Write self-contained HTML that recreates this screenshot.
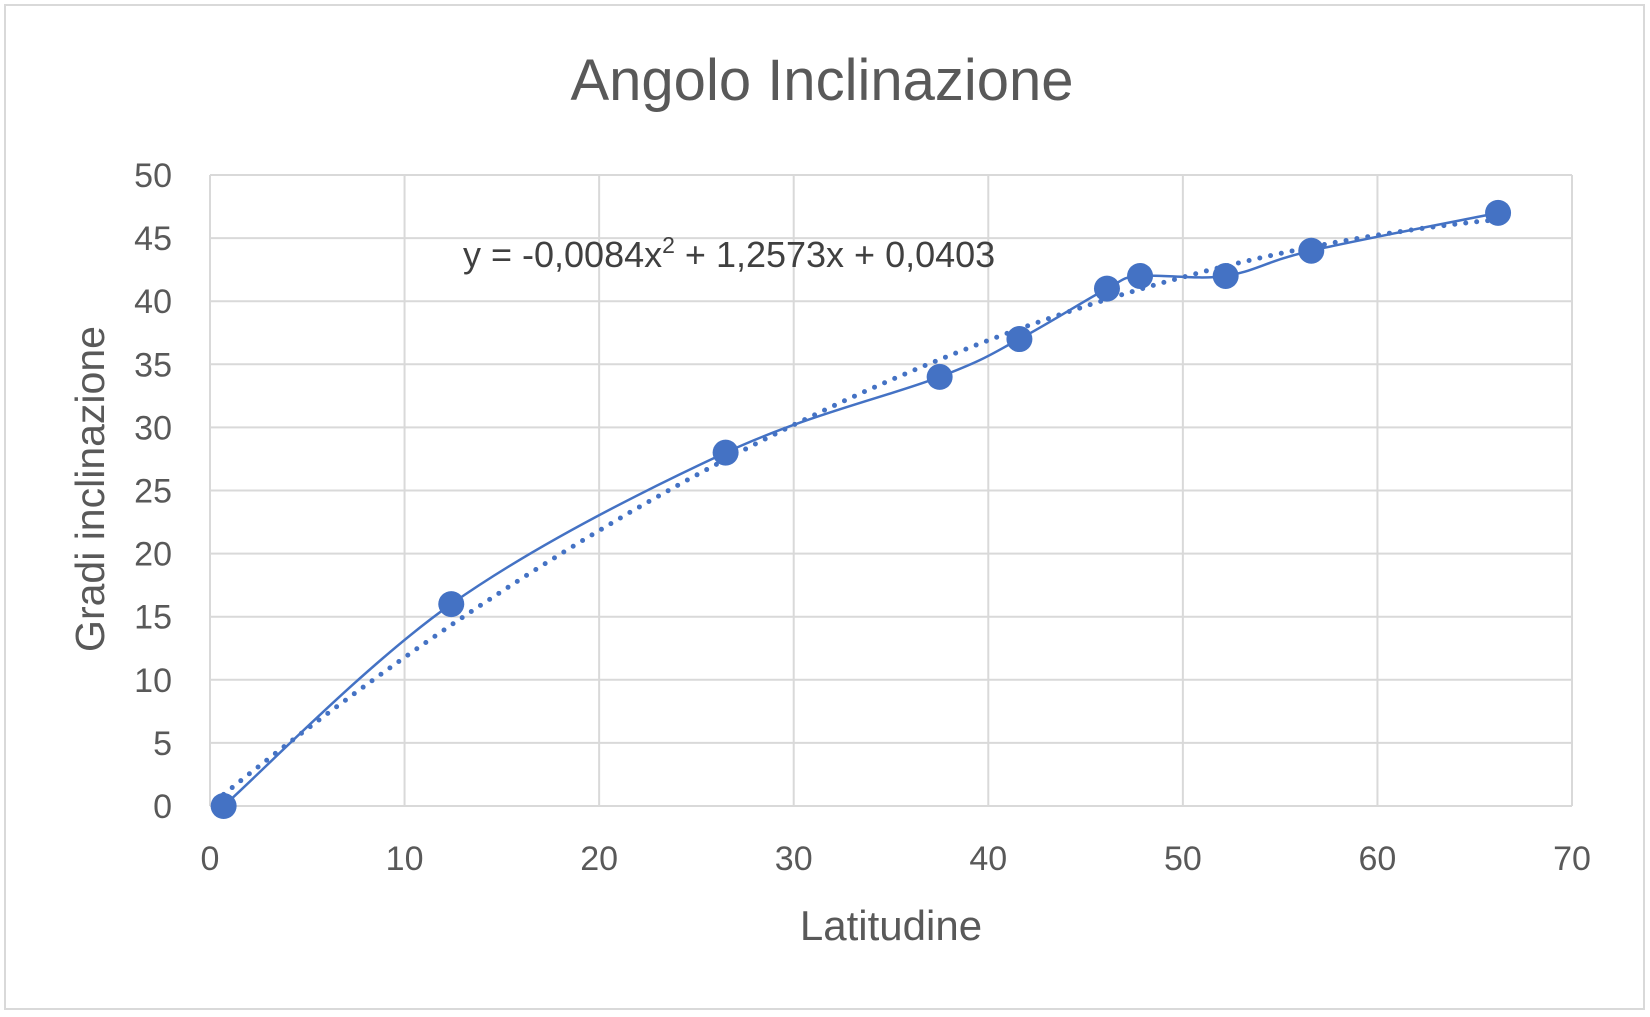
<!DOCTYPE html>
<html><head><meta charset="utf-8"><style>
body{margin:0;background:#fff;}
svg{display:block;font-family:"Liberation Sans",sans-serif;}
</style></head><body>
<svg id="chart" width="1650" height="1017" viewBox="0 0 1650 1017">
<rect x="5" y="5" width="1639" height="1004" fill="#fff" stroke="#d9d9d9" stroke-width="2"/>
<g id="grid"></g>
<g id="ticks"></g>
<g id="trend"></g>
<g id="series"></g>
<text x="822" y="100" font-size="58" fill="#595959" text-anchor="middle">Angolo Inclinazione</text>
<text x="463" y="267" font-size="36" fill="#404040">y = -0,0084x<tspan font-size="23" dy="-14">2</tspan><tspan dy="14"> + 1,2573x + 0,0403</tspan></text>
<text x="891" y="940" font-size="42" fill="#595959" text-anchor="middle">Latitudine</text>
<text transform="translate(104,489) rotate(-90)" font-size="41" fill="#595959" text-anchor="middle">Gradi inclinazione</text>
</svg>
<script>
const latitudes=[0.7,12.4,26.5,37.5,41.6,46.1,47.8,52.2,56.6,66.2];
const angles=[0,16,28,34,37,41,42,42,44,47];
const xTicks=[0,10,20,30,40,50,60,70];
const yTicks=[0,5,10,15,20,25,30,35,40,45,50];
const trendCoef=[-0.0084,1.2573,0.0403];
const NS="http://www.w3.org/2000/svg";
const X0=210,X1=1572,Y0=806,Y1=175;
const sx=v=>X0+(v-0)/(70-0)*(X1-X0);
const sy=v=>Y0-(v-0)/(50-0)*(Y0-Y1);
function mk(t,a,p){const e=document.createElementNS(NS,t);for(const k in a)e.setAttribute(k,a[k]);p.appendChild(e);return e;}
const grid=document.getElementById('grid'),ticks=document.getElementById('ticks');
yTicks.forEach(v=>{
 const l=mk('line',{x1:X0,x2:X1,y1:sy(v),y2:sy(v),stroke:'#d9d9d9','stroke-width':2},grid);
 
 
 const t=mk('text',{x:X0-38,y:sy(v)+12,'font-size':34,fill:'#595959','text-anchor':'end'},ticks);
 t.textContent=v;
 
 
});
xTicks.forEach(v=>{
 const l=mk('line',{x1:sx(v),x2:sx(v),y1:Y1,y2:Y0,stroke:'#d9d9d9','stroke-width':2},grid);
 
 
 const t=mk('text',{x:sx(v),y:Y0+64,'font-size':34,fill:'#595959','text-anchor':'middle'},ticks);
 t.textContent=v;
 
 
});
let tp=[];const a=latitudes[0],b=latitudes[latitudes.length-1];
for(let i=0;i<=100;i++){const x=a+(b-a)*i/100;const y=trendCoef[0]*x*x+trendCoef[1]*x+trendCoef[2];tp.push(sx(x).toFixed(1)+','+sy(y).toFixed(1));}
const tr=mk('polyline',{points:tp.join(' '),fill:'none',stroke:'#4472c4','stroke-width':5,'stroke-dasharray':'0 11','stroke-linecap':'round'},document.getElementById('trend'));


const P=latitudes.map((x,i)=>[sx(x),sy(angles[i])]);
let d='M'+P[0][0]+','+P[0][1];
for(let i=0;i<P.length-1;i++){
 const p0=P[Math.max(0,i-1)],p1=P[i],p2=P[i+1],p3=P[Math.min(P.length-1,i+2)];
 const c1=[p1[0]+(p2[0]-p0[0])/6,p1[1]+(p2[1]-p0[1])/6];
 const c2=[p2[0]-(p3[0]-p1[0])/6,p2[1]-(p3[1]-p1[1])/6];
 d+=` C${c1[0]},${c1[1]} ${c2[0]},${c2[1]} ${p2[0]},${p2[1]}`;
}
const sg=document.getElementById('series');
const ln=mk('path',{d:d,fill:'none',stroke:'#4472c4','stroke-width':2.5},sg);


P.forEach(p=>{
 const c=mk('circle',{cx:p[0],cy:p[1],r:13,fill:'#4472c4'},sg);
 
 
});
</script>
</body></html>
